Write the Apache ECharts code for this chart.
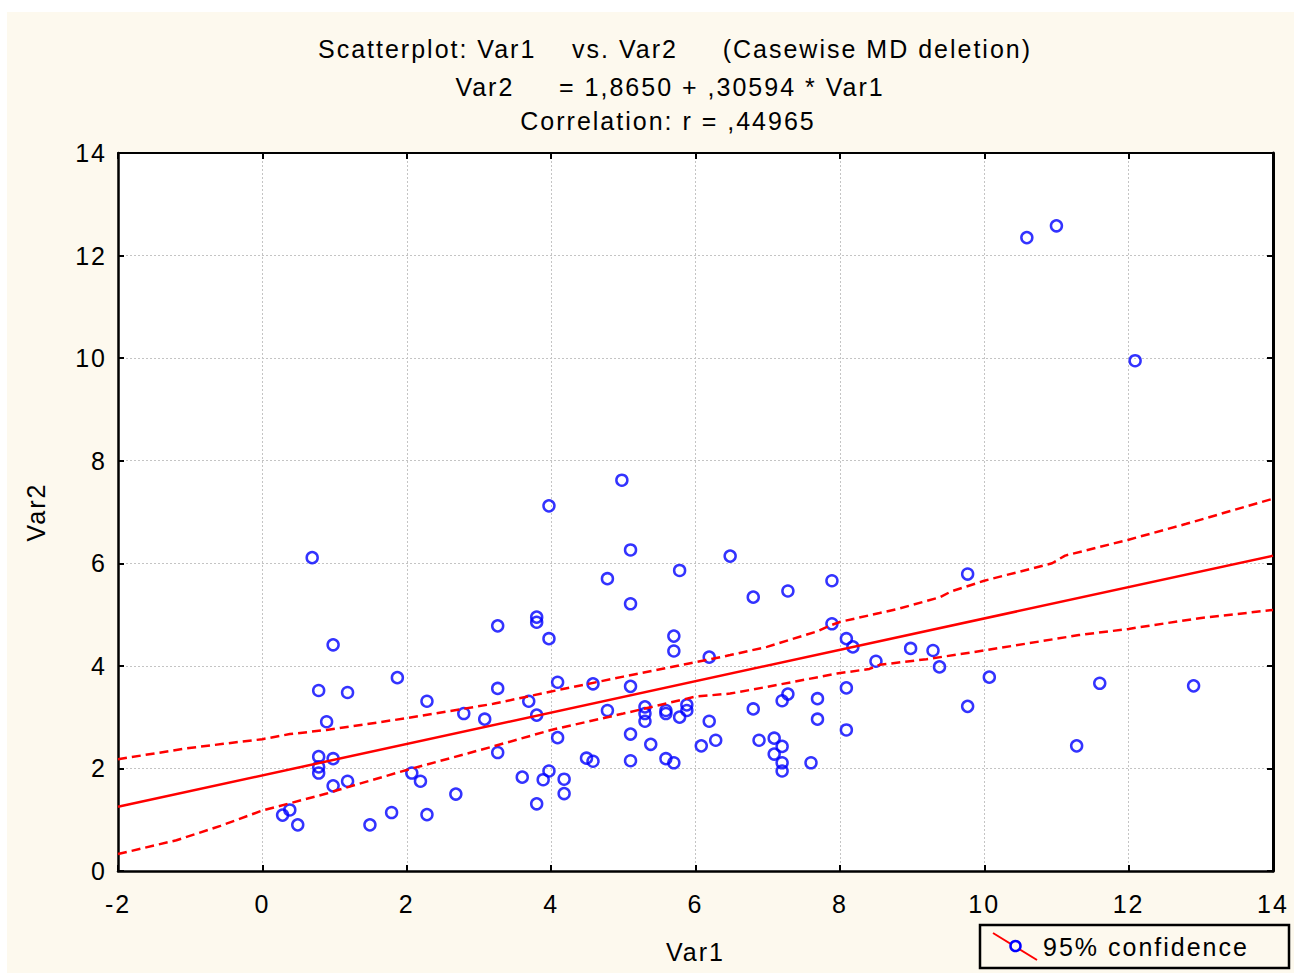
<!DOCTYPE html>
<html>
<head>
<meta charset="utf-8">
<title>Scatterplot: Var1 vs. Var2</title>
<script src="https://cdn.jsdelivr.net/npm/echarts@6/dist/echarts.min.js"></script>
<style>
  html, body { margin: 0; padding: 0; background: #ffffff; }
  #wrap { position: relative; width: 1294px; height: 973px; overflow: hidden; }
  #paper { position: absolute; left: 7px; top: 12px; right: 0; bottom: 0; background: #fdf9ee; }
  #chart { position: absolute; left: 0; top: 0; width: 1294px; height: 973px; letter-spacing: 2px; }
  #chart text { white-space: pre; }
</style>
</head>
<body>
<div id="wrap">
  <div id="paper"></div>
  <div id="chart"></div>
</div>
<script>
// Observations (casewise deletion applied)
const var1 = [
  0.69, 0.98, 0.78, 1.18, 0.89, 0.78, 0.78, 0.78, 0.98, 0.98,
  1.18, 0.28, 0.38, 0.49, 1.49, 1.79, 1.87, 2.28, 2.07, 2.19,
  2.28, 2.68, 2.79, 3.08, 3.26, 3.26, 3.26, 3.60, 3.69, 3.80,
  3.80, 3.80, 3.80, 3.89, 3.97, 3.97, 3.97, 4.09, 4.09, 4.18,
  4.18, 4.49, 4.58, 4.58, 4.78, 4.78, 4.98, 5.10, 5.10, 5.10,
  5.10, 5.10, 5.30, 5.30, 5.30, 5.38, 5.59, 5.59, 5.59, 5.70,
  5.70, 5.70, 5.78, 5.78, 5.88, 5.88, 6.08, 6.19, 6.19, 6.28,
  6.48, 6.80, 6.80, 6.88, 7.09, 7.09, 7.20, 7.20, 7.20, 7.20,
  7.28, 7.28, 7.60, 7.69, 7.69, 7.89, 7.89, 8.09, 8.18, 8.09,
  8.09, 8.50, 8.98, 9.29, 9.38, 9.77, 9.77, 10.07, 10.59, 11.00,
  12.09, 11.28, 11.60, 12.90
];
const var2 = [
  6.11, 4.41, 3.52, 3.48, 2.91, 2.23, 2.03, 1.91, 2.19, 1.66,
  1.75, 1.09, 1.19, 0.90, 0.90, 1.14, 3.77, 3.31, 1.91, 1.75,
  1.10, 1.50, 3.07, 2.96, 4.78, 3.56, 2.31, 1.83, 3.31, 4.95,
  4.85, 3.04, 1.31, 1.78, 7.12, 4.53, 1.95, 3.68, 2.60, 1.79,
  1.51, 2.20, 2.14, 3.65, 5.70, 3.13, 7.62, 6.26, 5.21, 3.60,
  2.67, 2.15, 3.20, 3.07, 2.92, 2.47, 3.13, 3.07, 2.19, 4.58,
  4.29, 2.11, 5.86, 3.00, 3.24, 3.13, 2.44, 4.17, 2.92, 2.55,
  6.14, 5.34, 3.16, 2.55, 2.59, 2.28, 2.43, 2.11, 1.95, 3.32,
  3.45, 5.46, 2.11, 3.36, 2.96, 5.66, 4.82, 4.53, 4.37, 3.57,
  2.75, 4.09, 4.34, 4.30, 3.98, 5.79, 3.21, 3.78, 12.35, 12.58,
  9.95, 2.44, 3.66, 3.61
];

// Fitted regression: Var2 = 1,8650 + ,30594 * Var1
const intercept = 1.8650;
const slope = 0.30594;

// 95% confidence band, upper and lower edges (Var1, Var2)
const bandUpperX = [-2, -1.28, -1.05, -0.54, 0, 0.38, 0.89, 2.0, 3.2, 4.0, 5.0, 6.0, 6.48, 6.99, 7.68, 7.89, 8.01, 8.55, 8.83, 9.39, 9.54, 10.0, 10.94, 11.12, 12.0, 12.8, 14];
const bandUpperY = [2.18, 2.34, 2.39, 2.48, 2.57, 2.67, 2.75, 2.98, 3.26, 3.50, 3.79, 4.07, 4.21, 4.37, 4.67, 4.80, 4.86, 5.03, 5.12, 5.34, 5.45, 5.66, 6.00, 6.15, 6.46, 6.77, 7.26];
const bandLowerX = [-2, -1.19, -0.58, 0, 0.38, 0.89, 1.0, 2.0, 3.15, 4.0, 5.0, 6.0, 6.48, 6.99, 7.96, 8.41, 8.55, 9.2, 10.0, 11.31, 12.0, 12.98, 14];
const bandLowerY = [0.33, 0.60, 0.88, 1.18, 1.32, 1.51, 1.56, 1.97, 2.41, 2.75, 3.07, 3.40, 3.46, 3.59, 3.85, 3.94, 4.02, 4.13, 4.30, 4.60, 4.72, 4.93, 5.09];

// Axis ranges and ticks
const xRange = [-2, 14];
const yRange = [0, 14];
const tickStep = 2;

const titleLines = [
  'Scatterplot: Var1\u00a0\u00a0\u00a0 vs. Var2\u00a0\u00a0\u00a0\u00a0 (Casewise MD deletion)',
  'Var2\u00a0\u00a0\u00a0\u00a0 = 1,8650 + ,30594 * Var1',
  'Correlation: r = ,44965'
];
const legendLabel = '95% confidence';

const FONT = '"Liberation Sans", Arial, sans-serif';
const paper = '#fdf9ee';

const zip = (xs, ys) => xs.map((x, i) => [x, ys[i]]);
const points = zip(var1, var2);
const fitLine = xRange.map(x => [x, intercept + slope * x]);

// Top and right edges of the plot frame: line plus inward ticks, no labels
const frameAxis = (extra, lineWidth) => Object.assign({
  type: 'value',
  axisLine: { show: true, onZero: false, lineStyle: { color: '#000', width: lineWidth } },
  axisTick: { show: true, inside: true, length: 6, lineStyle: { color: '#000', width: 2 } },
  axisLabel: { show: false },
  splitLine: { show: false }
}, extra);

const chart = echarts.init(document.getElementById('chart'), null, { renderer: 'svg', width: 1294, height: 973 });

chart.setOption({
  backgroundColor: 'transparent',
  animation: false,
  textStyle: { fontFamily: FONT },
  grid: {
    left: 118, right: 21, top: 153, bottom: 102,
    show: true, backgroundColor: '#ffffff', borderWidth: 0
  },
  xAxis: [
    {
      type: 'value', min: xRange[0], max: xRange[1], interval: tickStep,
      position: 'bottom',
      name: 'Var1', nameLocation: 'middle', nameGap: 68,
      nameTextStyle: { color: '#000', fontSize: 25, fontFamily: FONT },
      axisLine: { show: true, onZero: false, lineStyle: { color: '#000', width: 2.5 } },
      axisTick: { show: true, inside: true, length: 6, lineStyle: { color: '#000', width: 2 } },
      axisLabel: { color: '#000', fontSize: 25, fontFamily: FONT, margin: 20 },
      splitLine: { show: true, lineStyle: { color: '#c4c4c4', width: 1, type: [2, 2] } }
    },
    frameAxis({ min: xRange[0], max: xRange[1], interval: tickStep, position: 'top' }, 2)
  ],
  yAxis: [
    {
      type: 'value', min: yRange[0], max: yRange[1], interval: tickStep,
      position: 'left',
      name: 'Var2', nameLocation: 'middle', nameGap: 70, nameRotate: 90,
      nameTextStyle: { color: '#000', fontSize: 25, fontFamily: FONT },
      axisLine: { show: true, onZero: false, lineStyle: { color: '#000', width: 2.5 } },
      axisTick: { show: true, inside: true, length: 6, lineStyle: { color: '#000', width: 2 } },
      axisLabel: { color: '#000', fontSize: 25, fontFamily: FONT, margin: 11 },
      splitLine: { show: true, lineStyle: { color: '#c4c4c4', width: 1, type: [2, 2] } }
    },
    frameAxis({ min: yRange[0], max: yRange[1], interval: tickStep, position: 'right' }, 3)
  ],
  series: [
    {
      name: 'upper', type: 'line', data: zip(bandUpperX, bandUpperY),
      showSymbol: false, symbol: 'none', silent: true,
      lineStyle: { color: '#ff0000', width: 2.5, type: [9, 5] }
    },
    {
      name: 'lower', type: 'line', data: zip(bandLowerX, bandLowerY),
      showSymbol: false, symbol: 'none', silent: true,
      lineStyle: { color: '#ff0000', width: 2.5, type: [9, 5] }
    },
    {
      name: 'fit', type: 'line', data: fitLine,
      showSymbol: false, symbol: 'none', silent: true,
      lineStyle: { color: '#ff0000', width: 2.5 }
    },
    {
      name: legendLabel, type: 'scatter', data: points,
      symbol: 'circle', symbolSize: 11,
      itemStyle: { color: 'rgba(0,0,0,0)', borderColor: '#0000ff', borderWidth: 2.5 }
    }
  ],
  graphic: [
    { type: 'text', x: 675, y: 49, style: { text: titleLines[0], fill: '#000', font: '25px ' + FONT, textAlign: 'center', textVerticalAlign: 'middle', align: 'center', verticalAlign: 'middle' } },
    { type: 'text', x: 670, y: 87, style: { text: titleLines[1], fill: '#000', font: '25px ' + FONT, textAlign: 'center', textVerticalAlign: 'middle', align: 'center', verticalAlign: 'middle' } },
    { type: 'text', x: 668, y: 121, style: { text: titleLines[2], fill: '#000', font: '25px ' + FONT, textAlign: 'center', textVerticalAlign: 'middle', align: 'center', verticalAlign: 'middle' } },
    // legend box
    { type: 'rect', shape: { x: 980, y: 925, width: 309, height: 43 }, style: { fill: paper, stroke: '#000', lineWidth: 2.5 } },
    { type: 'line', shape: { x1: 993, y1: 933, x2: 1037, y2: 960 }, style: { stroke: '#ff0000', lineWidth: 2 } },
    { type: 'circle', shape: { cx: 1015.5, cy: 946, r: 5 }, style: { fill: paper, stroke: '#0000ff', lineWidth: 2.5 } },
    { type: 'text', x: 1043, y: 947, style: { text: legendLabel, fill: '#000', font: '25px ' + FONT, textVerticalAlign: 'middle', verticalAlign: 'middle' } }
  ]
});
</script>
</body>
</html>
